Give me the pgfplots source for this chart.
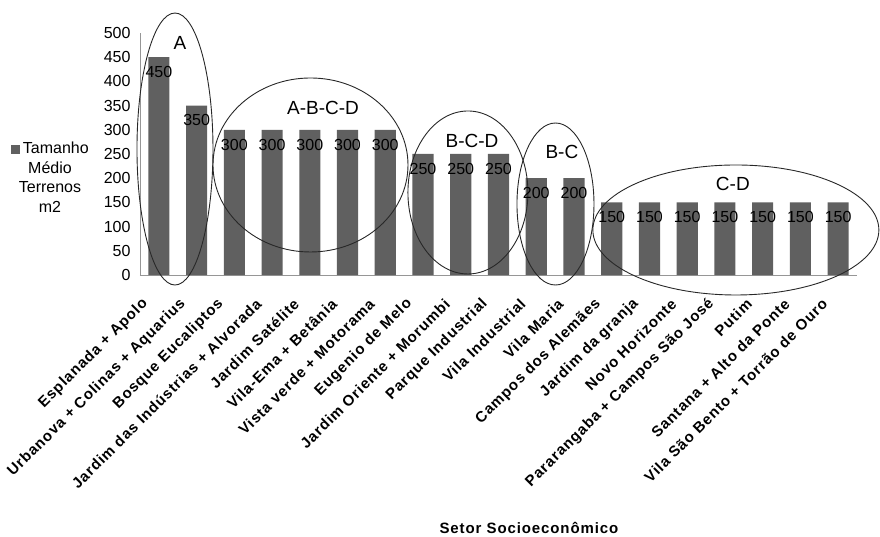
\documentclass[border=0pt]{standalone}
\usepackage{pgfplots}
\pgfplotsset{compat=1.18}
\usepackage{fontspec}
\setmainfont{Liberation Sans}
\newfontfamily\spacedfont[LetterSpace=6]{Liberation Sans}
\definecolor{barcol}{RGB}{96,96,96}
\definecolor{axcol}{RGB}{150,150,150}
\definecolor{ellcol}{RGB}{40,40,40}

\begin{document}
\begin{tikzpicture}
\useasboundingbox (-140pt,-262pt) rectangle (740pt,275pt);
\begin{axis}[
  scale only axis, width=717pt, height=242pt,
  xmin=-0.5, xmax=18.5, ymin=0, ymax=500,
  clip=false,
  axis lines*=left,
  axis line style={axcol, line width=0.8pt},
  major tick length=0pt,
  ytick={0,50,...,500},
  xtick={0,...,18},
  xticklabels={
    Esplanada + Apolo,
    Urbanova + Colinas + Aquarius,
    Bosque Eucaliptos,
    Jardim das Indústrias + Alvorada,
    Jardim Satélite,
    Vila-Ema + Betânia,
    Vista verde + Motorama,
    Eugenio de Melo,
    Jardim Oriente + Morumbi,
    Parque Industrial,
    Vila Industrial,
    Vila Maria,
    Campos dos Alemães,
    Jardim da granja,
    Novo Horizonte,
    Pararangaba + Campos São José,
    Putim,
    Santana + Alto da Ponte,
    Vila São Bento + Torrão de Ouro},
  /pgf/number format/assume math mode=true,
  yticklabel style={font=\fontsize{16}{18}\selectfont, xshift=-6pt},
  xticklabel style={font=\spacedfont\bfseries\fontsize{15}{18}\selectfont,
    xshift=-11pt, yshift=-24pt, rotate=45, anchor=east},
  xlabel={Setor Socioeconômico},
  xlabel style={font=\spacedfont\bfseries\fontsize{15}{18}\selectfont,
    at={(axis description cs:0.5425,-1.045)}, anchor=center},
  ybar, bar width=0.56,
  nodes near coords,
  every node near coord/.append style={anchor=north, yshift=-9pt,
    inner sep=0pt, black, font=\fontsize{16}{18}\selectfont},
]
\addplot[fill=barcol, draw=none] coordinates {
  (0,450) (1,350) (2,300) (3,300) (4,300) (5,300) (6,300)
  (7,250) (8,250) (9,250) (10,200) (11,200)
  (12,150) (13,150) (14,150) (15,150) (16,150) (17,150) (18,150)};

% groups of sectors that are not significantly different
\begin{scope}[ellcol, line width=0.9pt]
  \draw (axis cs:0.427,260.3) ellipse [x radius=38pt, y radius=136pt];
  \draw (axis cs:4.018,227.3) ellipse [x radius=97.5pt, y radius=87pt];
  \draw (axis cs:8.19,170.5) ellipse [x radius=60pt, y radius=81.5pt];
  \draw (axis cs:10.51,146.7) ellipse [x radius=38.5pt, y radius=81pt];
  \draw (axis cs:15.29,93) ellipse [x radius=143pt, y radius=65pt];
\end{scope}
\begin{scope}[every node/.style={font=\fontsize{19}{21}\selectfont, inner sep=0pt}]
  \node at (axis cs:0.56,479) {A};
  \node at (axis cs:4.35,345) {A-B-C-D};
  \node at (axis cs:8.30,277) {B-C-D};
  \node at (axis cs:10.68,254) {B-C};
  \node at (axis cs:15.21,188) {C-D};
\end{scope}

% legend
\node[anchor=north, align=center, inner sep=0pt,
  font=\fontsize{16}{19.5}\selectfont]
  at (axis description cs:-0.1255,0.55)
  {\textcolor{barcol}{\rule{9pt}{9pt}}\,Tamanho\\Médio\\Terrenos\\m2};
\end{axis}
\end{tikzpicture}
\end{document}
